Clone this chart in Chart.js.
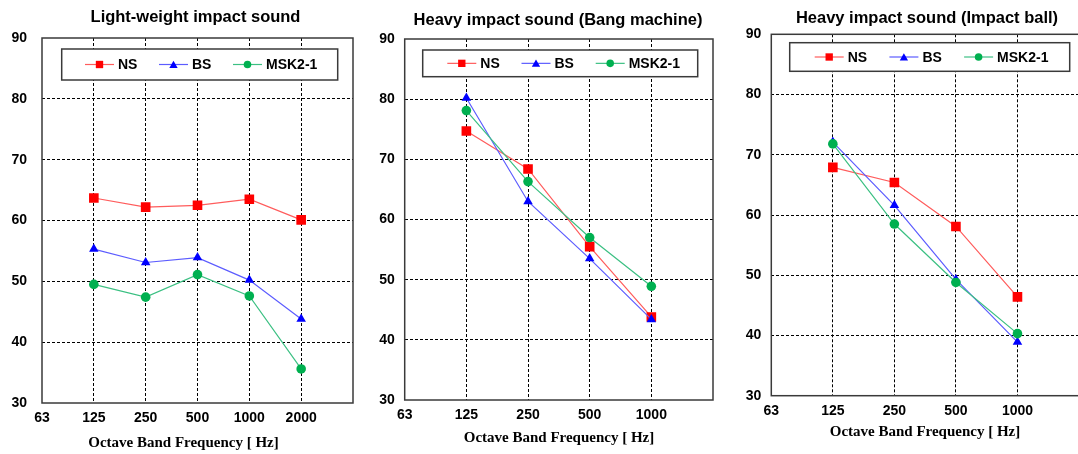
<!DOCTYPE html>
<html>
<head>
<meta charset="utf-8">
<script src="https://cdn.jsdelivr.net/npm/chart.js"></script>
<style>
html,body{margin:0;padding:0;background:#fff;overflow:hidden;width:1078px;height:454px;}
canvas{position:absolute;top:0;}
</style>
</head>
<body>
<canvas id="c1" width="360" height="454" style="left:0px"></canvas>
<canvas id="c2" width="360" height="454" style="left:360px"></canvas>
<canvas id="c3" width="368" height="454" style="left:718px"></canvas>
<script>
// ---- data ----
const freqLabels1 = ['63', '125', '250', '500', '1000', '2000', ''];
const freqLabels2 = ['63', '125', '250', '500', '1000', ''];
const seriesNames = ['NS', 'BS', 'MSK2-1'];

const chartTitles = ['Light-weight impact sound', 'Heavy impact sound (Bang machine)', 'Heavy impact sound (Impact ball)'];
const xAxisTitle = 'Octave Band Frequency [ Hz]';
const yTicks = [30, 40, 50, 60, 70, 80, 90];

// Light-weight impact sound (125..2000 Hz)
const lightNS  = [63.7, 62.2, 62.5, 63.5, 60.1];
const lightBS  = [55.3, 53.1, 53.9, 50.2, 43.8];
const lightMSK = [49.5, 47.4, 51.1, 47.6, 35.6];

// Heavy impact sound, Bang machine (125..1000 Hz)
const bangNS  = [74.7, 68.4, 55.5, 43.8];
const bangBS  = [80.2, 63.0, 53.5, 43.4];
const bangMSK = [78.1, 66.3, 57.0, 48.9];

// Heavy impact sound, Impact ball (125..1000 Hz)
const ballNS  = [67.9, 65.4, 58.1, 46.4];
const ballBS  = [72.1, 61.6, 49.3, 38.9];
const ballMSK = [71.8, 58.5, 48.8, 40.3];

// ---- styles ----
const seriesStyle = [
  {line: '#ff5c5c', mark: '#ff0000', shape: 'rect', r: 6.8, lr: 5.2},
  {line: '#5c5cff', mark: '#0000ff', shape: 'triangle', r: 5.5, lr: 4.8},
  {line: '#3cc083', mark: '#00b050', shape: 'circle', r: 4.8, lr: 3.8}
];

function drawMarker(ctx, shape, x, y, r, color) {
  ctx.save();
  ctx.fillStyle = color;
  ctx.beginPath();
  if (shape === 'rect') {
    const s = r * Math.SQRT1_2;
    ctx.rect(x - s, y - s, 2 * s, 2 * s);
  } else if (shape === 'triangle') {
    ctx.moveTo(x, y - r);
    ctx.lineTo(x + r * 0.866, y + r * 0.5);
    ctx.lineTo(x - r * 0.866, y + r * 0.5);
    ctx.closePath();
  } else {
    ctx.arc(x, y, r, 0, Math.PI * 2);
  }
  ctx.fill();
  ctx.restore();
}

const framePlugin = {
  id: 'frame',
  beforeDatasetsDraw(chart) {
    const {ctx, chartArea: a} = chart;
    ctx.save();
    ctx.strokeStyle = '#3a3a3a';
    ctx.lineWidth = 1.5;
    ctx.strokeRect(a.left, a.top, a.right - a.left, a.bottom - a.top);
    ctx.restore();
  }
};

const textPlugin = {
  id: 'texts',
  afterDraw(chart, args, o) {
    const ctx = chart.ctx;
    ctx.save();
    ctx.fillStyle = '#000';
    ctx.textAlign = 'center';
    ctx.textBaseline = 'middle';
    ctx.font = 'bold 16.5px "Liberation Sans", Arial, sans-serif';
    ctx.fillText(o.title, o.tx, o.ty);
    ctx.font = 'bold 15px "Liberation Serif", "Times New Roman", serif';
    ctx.fillText(o.xtitle, o.ax, o.ay);
    ctx.restore();
  }
};

const legendPlugin = {
  id: 'boxLegend',
  afterDraw(chart, args, o) {
    const ctx = chart.ctx;
    ctx.save();
    ctx.fillStyle = '#fff';
    ctx.fillRect(o.x, o.y, o.w, o.h);
    ctx.strokeStyle = '#3a3a3a';
    ctx.lineWidth = 1.5;
    ctx.strokeRect(o.x, o.y, o.w, o.h);
    const cy = o.y + o.h / 2;
    chart.data.datasets.forEach((ds, i) => {
      const st = seriesStyle[i];
      const x0 = o.x + o.first + i * o.step;
      ctx.strokeStyle = st.line;
      ctx.lineWidth = 1.2;
      ctx.beginPath();
      ctx.moveTo(x0, cy);
      ctx.lineTo(x0 + 29, cy);
      ctx.stroke();
      drawMarker(ctx, st.shape, x0 + 14.5, cy + (st.shape === 'triangle' ? 1 : 0), st.lr, st.mark);
      ctx.fillStyle = '#000';
      ctx.font = 'bold 14px "Liberation Sans", Arial, sans-serif';
      ctx.textAlign = 'left';
      ctx.textBaseline = 'middle';
      ctx.fillText(ds.label, x0 + 33, cy + 1);
    });
    ctx.restore();
  }
};

function makeChart(id, labels, series, geo) {
  const datasets = series.map((vals, i) => {
    const st = seriesStyle[i];
    return {
      label: seriesNames[i],
      data: [null, ...vals],
      borderColor: st.line,
      borderWidth: 1.2,
      pointStyle: st.shape,
      pointRadius: st.r,
      pointHoverRadius: st.r,
      pointBackgroundColor: st.mark,
      pointBorderColor: st.mark,
      pointBorderWidth: 0,
      order: 3 - i,
      spanGaps: false,
      tension: 0
    };
  });
  const last = labels.length - 1;
  return new Chart(document.getElementById(id), {
    type: 'line',
    data: {labels: labels, datasets: datasets},
    plugins: [framePlugin, textPlugin, legendPlugin],
    options: {
      responsive: false,
      animation: false,
      events: [],
      layout: {padding: {top: geo.top, right: geo.right, left: 0, bottom: 0}},
      plugins: {
        legend: {display: false},
        tooltip: {enabled: false},
        title: {display: false},
        texts: geo.texts,
        boxLegend: geo.legend
      },
      scales: {
        x: {
          type: 'category',
          offset: false,
          afterFit: s => { s.height = geo.xh; },
          grid: {
            drawTicks: false,
            color: c => (c.index === 0 || c.index === last) ? 'rgba(0,0,0,0)' : '#000',
            lineWidth: 1
          },
          border: {display: false, dash: [3, 2]},
          ticks: {
            padding: geo.xpad,
            color: '#000',
            maxRotation: 0,
            autoSkip: false,
            font: {family: '"Liberation Sans", Arial, sans-serif', size: 14, weight: 'bold'}
          }
        },
        y: {
          min: yTicks[0],
          max: yTicks[yTicks.length - 1],
          afterFit: s => { s.width = geo.left; },
          afterBuildTicks: s => { s.ticks = yTicks.map(v => ({value: v})); },
          grid: {
            drawTicks: false,
            color: c => (c.tick && (c.tick.value === 30 || c.tick.value === 90)) ? 'rgba(0,0,0,0)' : '#000',
            lineWidth: 1
          },
          border: {display: false, dash: [3, 2]},
          ticks: {
            padding: geo.ypad,
            color: '#000',
            font: {family: '"Liberation Sans", Arial, sans-serif', size: 14, weight: 'bold'}
          }
        }
      }
    }
  });
}

makeChart('c1', freqLabels1, [lightNS, lightBS, lightMSK], {
  top: 38, right: 6, left: 42, xh: 51, xpad: 7, ypad: 15,
  texts: {title: chartTitles[0], tx: 195.5, ty: 17, xtitle: xAxisTitle, ax: 183.5, ay: 443},
  legend: {x: 61.7, y: 49, w: 276, h: 31, first: 23.3, step: 74}
});
makeChart('c2', freqLabels2, [bangNS, bangBS, bangMSK], {
  top: 39, right: 3.3, left: 44.7, xh: 54, xpad: 7, ypad: 10,
  texts: {title: chartTitles[1], tx: 198, ty: 20, xtitle: xAxisTitle, ax: 199, ay: 438},
  legend: {x: 62.7, y: 50, w: 275, h: 26.7, first: 24.6, step: 74.2}
});
makeChart('c3', freqLabels2, [ballNS, ballBS, ballMSK], {
  top: 34.3, right: 4, left: 53.3, xh: 58.3, xpad: 7, ypad: 10,
  texts: {title: chartTitles[2], tx: 209, ty: 18, xtitle: xAxisTitle, ax: 207, ay: 432},
  legend: {x: 71.7, y: 42.7, w: 280, h: 28.6, first: 25, step: 74.7}
});
</script>
</body>
</html>
